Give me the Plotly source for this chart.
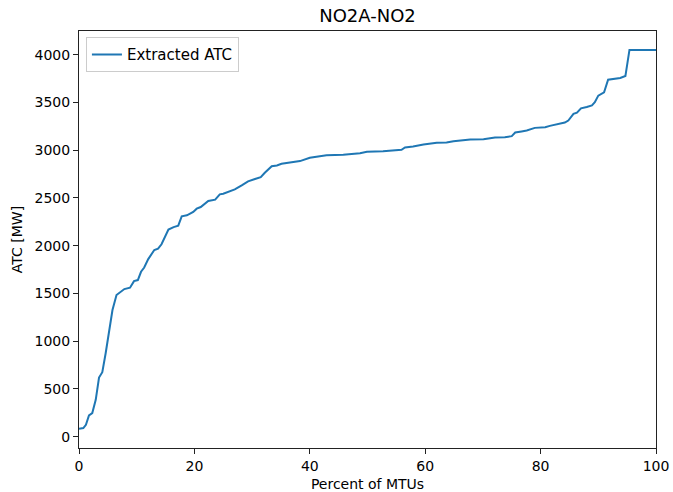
import plotly.graph_objects as go

# Duration curve of extracted ATC
percent_mtus = [0, 0.75, 1.2, 1.73, 2.3, 2.9, 3.47, 4.04, 4.62, 5.2, 5.8, 6.5, 7.1,
                7.86, 8.84, 9.53, 10.2, 10.75, 11.3, 12.0, 13.05, 13.7, 14.3, 14.9,
                15.5, 16.4, 17.2, 17.8, 18.7, 19.8, 20.4, 21.1, 22.4, 23.6, 24.4, 25.0,
                26.5, 27.0, 28.2, 29.3, 30.5, 31.5, 32.2, 33.4, 34.3, 35.1, 38.3, 40.0,
                42.9, 45.8, 48.7, 49.9, 52.7, 55.9, 56.5, 57.9, 59.7, 62.0, 63.7, 64.9,
                67.8, 70.1, 72.1, 73.8, 75.0, 75.6, 76.7, 77.6, 79.0, 80.8, 81.6, 82.8,
                84.2, 84.8, 85.7, 86.3, 87.0, 88.0, 88.9, 89.4, 90.0, 91.0, 91.7, 93.8,
                94.7, 95.4, 100]
atc_mw = [84, 90, 125, 223, 247, 386, 620, 675, 874, 1117, 1326, 1483, 1507,
          1546, 1560, 1629, 1640, 1727, 1772, 1860, 1955, 1970, 2015, 2092,
          2169, 2195, 2210, 2308, 2318, 2353, 2388, 2405, 2468, 2482, 2538, 2545,
          2580, 2590, 2632, 2674, 2698, 2718, 2764, 2833, 2841, 2858, 2886, 2921,
          2948, 2952, 2969, 2984, 2990, 3005, 3029, 3039, 3060, 3078, 3081, 3095,
          3113, 3115, 3133, 3136, 3147, 3185, 3196, 3206, 3234, 3241, 3255, 3269,
          3290, 3311, 3380, 3394, 3439, 3453, 3470, 3502, 3572, 3606, 3739, 3756,
          3777, 4050, 4050]

x_ticks = [0, 20, 40, 60, 80, 100]
y_ticks = [0, 500, 1000, 1500, 2000, 2500, 3000, 3500, 4000]

font = "DejaVu Sans"

fig = go.Figure()
fig.add_trace(
    go.Scatter(
        x=percent_mtus,
        y=atc_mw,
        mode='lines',
        name='Extracted ATC',
        line=dict(color='#1f77b4', width=2),
    )
)

axis_style = dict(
    showline=True,
    mirror=True,
    linecolor='#222222',
    linewidth=1,
    ticks='outside',
    ticklen=5,
    tickwidth=1,
    tickcolor='#222222',
    showgrid=False,
    zeroline=False,
    automargin=False,
    tickfont=dict(family=font, size=14, color='black'),
)

fig.update_layout(
    width=673,
    height=492,
    title=dict(text="NO2A-NO2", x=0.5, xref='paper', xanchor='center',
               y=0.968, yanchor='middle',
               font=dict(family=font, size=18, color='black')),
    plot_bgcolor='white',
    paper_bgcolor='white',
    margin=dict(l=79, r=17, t=31, b=44),
    showlegend=True,
    legend=dict(
        x=0.012, y=0.985, xanchor='left', yanchor='top',
        bgcolor='rgba(255,255,255,0.8)',
        bordercolor='#cccccc',
        borderwidth=1,
        itemwidth=30,
        font=dict(family=font, size=15, color='black'),
    ),
    font=dict(family=font),
)
fig.update_xaxes(range=[0, 100], tickvals=x_ticks,
                 title=dict(text="Percent of MTUs", standoff=7,
                            font=dict(family=font, size=14, color='black')),
                 **axis_style)
fig.update_yaxes(range=[-118.5, 4248.5], tickvals=y_ticks,
                 title=dict(text="ATC [MW]", standoff=8,
                            font=dict(family=font, size=14, color='black')),
                 **axis_style)

# remove the default page margin so the figure sits at the window's corner
fig.write_html("out.html", config={'displayModeBar': False},
               post_script="document.body.style.margin='0';")
